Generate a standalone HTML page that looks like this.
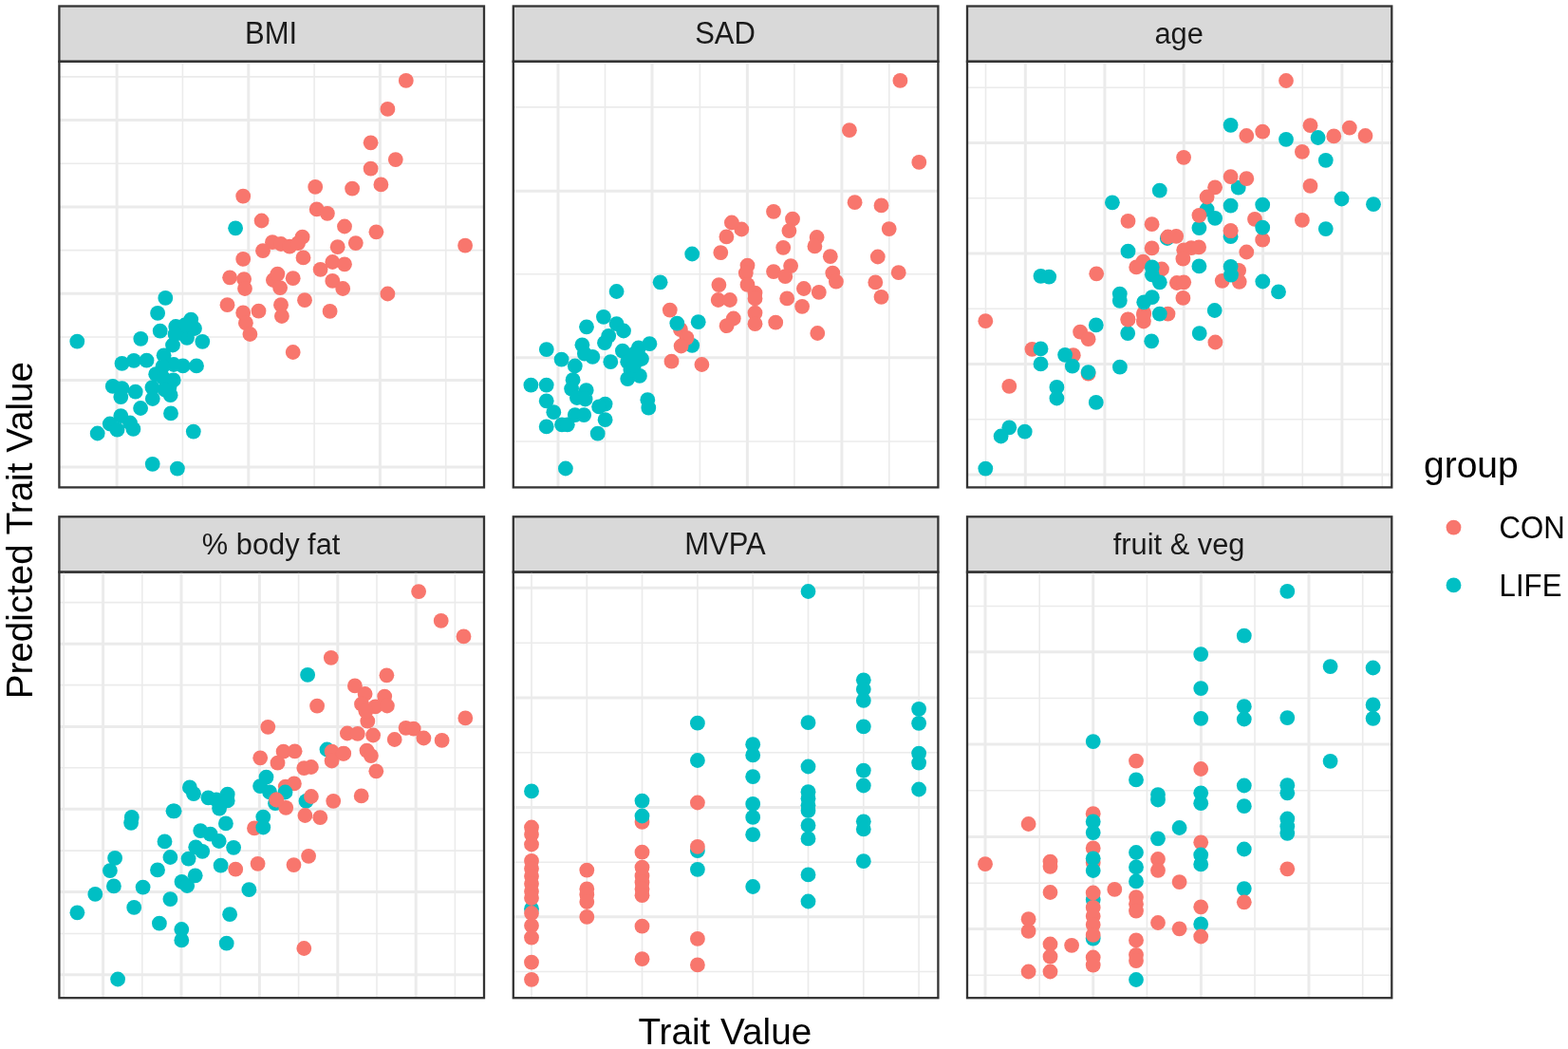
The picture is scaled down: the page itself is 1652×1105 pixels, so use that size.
<!DOCTYPE html><html><head><meta charset="utf-8"><style>html,body{margin:0;padding:0;background:#fff;overflow:hidden;}svg{display:block;}text{font-family:"Liberation Sans",Arial,sans-serif;}</style></head><body>
<svg width="1652" height="1105" viewBox="0 0 1652 1105">
<rect x="0" y="0" width="1652" height="1105" fill="#fff"/>
<rect x="62.4" y="6.5" width="447.6" height="58.3" fill="#D9D9D9" stroke="#333333" stroke-width="2.3"/>
<text transform="translate(285.6,45.7) scale(1,1.045)" font-size="31" fill="#1A1A1A" text-anchor="middle">BMI</text>
<line x1="192.4" y1="64.8" x2="192.4" y2="513.4" stroke="#EBEBEB" stroke-width="1.6"/><line x1="331.1" y1="64.8" x2="331.1" y2="513.4" stroke="#EBEBEB" stroke-width="1.6"/><line x1="469.7" y1="64.8" x2="469.7" y2="513.4" stroke="#EBEBEB" stroke-width="1.6"/><line x1="123.1" y1="64.8" x2="123.1" y2="513.4" stroke="#EBEBEB" stroke-width="3.0"/><line x1="261.8" y1="64.8" x2="261.8" y2="513.4" stroke="#EBEBEB" stroke-width="3.0"/><line x1="400.4" y1="64.8" x2="400.4" y2="513.4" stroke="#EBEBEB" stroke-width="3.0"/><line x1="62.4" y1="80.9" x2="510.0" y2="80.9" stroke="#EBEBEB" stroke-width="1.6"/><line x1="62.4" y1="172.3" x2="510.0" y2="172.3" stroke="#EBEBEB" stroke-width="1.6"/><line x1="62.4" y1="263.6" x2="510.0" y2="263.6" stroke="#EBEBEB" stroke-width="1.6"/><line x1="62.4" y1="355.0" x2="510.0" y2="355.0" stroke="#EBEBEB" stroke-width="1.6"/><line x1="62.4" y1="446.3" x2="510.0" y2="446.3" stroke="#EBEBEB" stroke-width="1.6"/><line x1="62.4" y1="126.6" x2="510.0" y2="126.6" stroke="#EBEBEB" stroke-width="3.0"/><line x1="62.4" y1="217.9" x2="510.0" y2="217.9" stroke="#EBEBEB" stroke-width="3.0"/><line x1="62.4" y1="309.3" x2="510.0" y2="309.3" stroke="#EBEBEB" stroke-width="3.0"/><line x1="62.4" y1="400.6" x2="510.0" y2="400.6" stroke="#EBEBEB" stroke-width="3.0"/><line x1="62.4" y1="492.0" x2="510.0" y2="492.0" stroke="#EBEBEB" stroke-width="3.0"/>
<circle cx="81.3" cy="359.7" r="7.9" fill="#00BFC4"/><circle cx="174.3" cy="313.9" r="7.9" fill="#00BFC4"/><circle cx="166.1" cy="329.9" r="7.9" fill="#00BFC4"/><circle cx="168.7" cy="348.7" r="7.9" fill="#00BFC4"/><circle cx="148.3" cy="356.8" r="7.9" fill="#00BFC4"/><circle cx="201.2" cy="336.6" r="7.9" fill="#00BFC4"/><circle cx="185.2" cy="344.0" r="7.9" fill="#00BFC4"/><circle cx="205.0" cy="346.0" r="7.9" fill="#00BFC4"/><circle cx="197.0" cy="355.8" r="7.9" fill="#00BFC4"/><circle cx="213.3" cy="359.8" r="7.9" fill="#00BFC4"/><circle cx="182.0" cy="363.5" r="7.9" fill="#00BFC4"/><circle cx="172.6" cy="374.3" r="7.9" fill="#00BFC4"/><circle cx="128.5" cy="382.9" r="7.9" fill="#00BFC4"/><circle cx="141.0" cy="379.8" r="7.9" fill="#00BFC4"/><circle cx="154.5" cy="379.6" r="7.9" fill="#00BFC4"/><circle cx="207.0" cy="385.4" r="7.9" fill="#00BFC4"/><circle cx="192.7" cy="385.4" r="7.9" fill="#00BFC4"/><circle cx="183.0" cy="384.0" r="7.9" fill="#00BFC4"/><circle cx="171.5" cy="386.0" r="7.9" fill="#00BFC4"/><circle cx="164.2" cy="394.2" r="7.9" fill="#00BFC4"/><circle cx="182.7" cy="400.4" r="7.9" fill="#00BFC4"/><circle cx="160.4" cy="408.1" r="7.9" fill="#00BFC4"/><circle cx="118.8" cy="406.9" r="7.9" fill="#00BFC4"/><circle cx="127.3" cy="418.1" r="7.9" fill="#00BFC4"/><circle cx="142.7" cy="412.7" r="7.9" fill="#00BFC4"/><circle cx="160.8" cy="420.0" r="7.9" fill="#00BFC4"/><circle cx="179.6" cy="416.2" r="7.9" fill="#00BFC4"/><circle cx="148.1" cy="430.0" r="7.9" fill="#00BFC4"/><circle cx="180.0" cy="435.4" r="7.9" fill="#00BFC4"/><circle cx="127.3" cy="438.1" r="7.9" fill="#00BFC4"/><circle cx="115.8" cy="446.5" r="7.9" fill="#00BFC4"/><circle cx="102.7" cy="456.5" r="7.9" fill="#00BFC4"/><circle cx="123.5" cy="452.7" r="7.9" fill="#00BFC4"/><circle cx="140.4" cy="451.9" r="7.9" fill="#00BFC4"/><circle cx="203.8" cy="454.6" r="7.9" fill="#00BFC4"/><circle cx="160.7" cy="488.8" r="7.9" fill="#00BFC4"/><circle cx="186.9" cy="493.6" r="7.9" fill="#00BFC4"/><circle cx="248.1" cy="240.3" r="7.9" fill="#00BFC4"/><circle cx="190.0" cy="350.8" r="7.9" fill="#00BFC4"/><circle cx="194.6" cy="342.5" r="7.9" fill="#00BFC4"/><circle cx="178.5" cy="407.5" r="7.9" fill="#00BFC4"/><circle cx="172.5" cy="398.5" r="7.9" fill="#00BFC4"/><circle cx="128.5" cy="409.2" r="7.9" fill="#00BFC4"/><circle cx="137.0" cy="445.5" r="7.9" fill="#00BFC4"/><circle cx="184.5" cy="352.0" r="7.9" fill="#00BFC4"/><circle cx="173.5" cy="410.5" r="7.9" fill="#00BFC4"/><circle cx="256.2" cy="206.7" r="7.9" fill="#F8766D"/><circle cx="332.2" cy="196.9" r="7.9" fill="#F8766D"/><circle cx="371.1" cy="198.7" r="7.9" fill="#F8766D"/><circle cx="333.7" cy="220.4" r="7.9" fill="#F8766D"/><circle cx="344.9" cy="224.8" r="7.9" fill="#F8766D"/><circle cx="275.6" cy="232.5" r="7.9" fill="#F8766D"/><circle cx="363.0" cy="238.5" r="7.9" fill="#F8766D"/><circle cx="374.8" cy="256.1" r="7.9" fill="#F8766D"/><circle cx="318.6" cy="249.7" r="7.9" fill="#F8766D"/><circle cx="287.0" cy="255.2" r="7.9" fill="#F8766D"/><circle cx="296.0" cy="257.0" r="7.9" fill="#F8766D"/><circle cx="305.1" cy="259.7" r="7.9" fill="#F8766D"/><circle cx="314.1" cy="256.1" r="7.9" fill="#F8766D"/><circle cx="277.0" cy="264.2" r="7.9" fill="#F8766D"/><circle cx="355.7" cy="260.2" r="7.9" fill="#F8766D"/><circle cx="256.2" cy="272.9" r="7.9" fill="#F8766D"/><circle cx="319.5" cy="271.4" r="7.9" fill="#F8766D"/><circle cx="337.6" cy="283.8" r="7.9" fill="#F8766D"/><circle cx="350.3" cy="276.0" r="7.9" fill="#F8766D"/><circle cx="363.0" cy="278.3" r="7.9" fill="#F8766D"/><circle cx="242.1" cy="292.3" r="7.9" fill="#F8766D"/><circle cx="257.1" cy="294.1" r="7.9" fill="#F8766D"/><circle cx="258.0" cy="304.0" r="7.9" fill="#F8766D"/><circle cx="287.9" cy="295.0" r="7.9" fill="#F8766D"/><circle cx="292.4" cy="288.6" r="7.9" fill="#F8766D"/><circle cx="295.1" cy="303.1" r="7.9" fill="#F8766D"/><circle cx="308.7" cy="293.2" r="7.9" fill="#F8766D"/><circle cx="350.3" cy="295.9" r="7.9" fill="#F8766D"/><circle cx="361.2" cy="304.0" r="7.9" fill="#F8766D"/><circle cx="239.5" cy="321.2" r="7.9" fill="#F8766D"/><circle cx="256.2" cy="329.4" r="7.9" fill="#F8766D"/><circle cx="272.5" cy="327.6" r="7.9" fill="#F8766D"/><circle cx="296.0" cy="321.2" r="7.9" fill="#F8766D"/><circle cx="296.9" cy="333.0" r="7.9" fill="#F8766D"/><circle cx="321.0" cy="316.2" r="7.9" fill="#F8766D"/><circle cx="347.6" cy="327.9" r="7.9" fill="#F8766D"/><circle cx="258.9" cy="340.2" r="7.9" fill="#F8766D"/><circle cx="263.4" cy="352.0" r="7.9" fill="#F8766D"/><circle cx="308.7" cy="371.0" r="7.9" fill="#F8766D"/><circle cx="427.8" cy="84.9" r="7.9" fill="#F8766D"/><circle cx="408.4" cy="114.9" r="7.9" fill="#F8766D"/><circle cx="390.6" cy="150.3" r="7.9" fill="#F8766D"/><circle cx="416.8" cy="168.1" r="7.9" fill="#F8766D"/><circle cx="390.6" cy="177.7" r="7.9" fill="#F8766D"/><circle cx="401.4" cy="194.4" r="7.9" fill="#F8766D"/><circle cx="396.4" cy="244.3" r="7.9" fill="#F8766D"/><circle cx="490.1" cy="258.7" r="7.9" fill="#F8766D"/><circle cx="408.4" cy="309.5" r="7.9" fill="#F8766D"/>
<rect x="62.4" y="64.8" width="447.6" height="448.6" fill="none" stroke="#333333" stroke-width="2.3"/>
<rect x="540.8" y="6.5" width="447.6" height="58.3" fill="#D9D9D9" stroke="#333333" stroke-width="2.3"/>
<text transform="translate(764.0,45.7) scale(1,1.045)" font-size="31" fill="#1A1A1A" text-anchor="middle">SAD</text>
<line x1="637.5" y1="64.8" x2="637.5" y2="513.4" stroke="#EBEBEB" stroke-width="1.6"/><line x1="737.4" y1="64.8" x2="737.4" y2="513.4" stroke="#EBEBEB" stroke-width="1.6"/><line x1="836.9" y1="64.8" x2="836.9" y2="513.4" stroke="#EBEBEB" stroke-width="1.6"/><line x1="936.8" y1="64.8" x2="936.8" y2="513.4" stroke="#EBEBEB" stroke-width="1.6"/><line x1="588.0" y1="64.8" x2="588.0" y2="513.4" stroke="#EBEBEB" stroke-width="3.0"/><line x1="687.0" y1="64.8" x2="687.0" y2="513.4" stroke="#EBEBEB" stroke-width="3.0"/><line x1="787.4" y1="64.8" x2="787.4" y2="513.4" stroke="#EBEBEB" stroke-width="3.0"/><line x1="886.9" y1="64.8" x2="886.9" y2="513.4" stroke="#EBEBEB" stroke-width="3.0"/><line x1="540.8" y1="112.9" x2="988.4" y2="112.9" stroke="#EBEBEB" stroke-width="1.6"/><line x1="540.8" y1="288.8" x2="988.4" y2="288.8" stroke="#EBEBEB" stroke-width="1.6"/><line x1="540.8" y1="465.0" x2="988.4" y2="465.0" stroke="#EBEBEB" stroke-width="1.6"/><line x1="540.8" y1="201.2" x2="988.4" y2="201.2" stroke="#EBEBEB" stroke-width="3.0"/><line x1="540.8" y1="376.7" x2="988.4" y2="376.7" stroke="#EBEBEB" stroke-width="3.0"/>
<circle cx="729.2" cy="363.8" r="7.9" fill="#00BFC4"/><circle cx="649.6" cy="307.0" r="7.9" fill="#00BFC4"/><circle cx="695.6" cy="297.3" r="7.9" fill="#00BFC4"/><circle cx="635.9" cy="333.8" r="7.9" fill="#00BFC4"/><circle cx="649.6" cy="341.1" r="7.9" fill="#00BFC4"/><circle cx="657.0" cy="348.5" r="7.9" fill="#00BFC4"/><circle cx="618.0" cy="344.3" r="7.9" fill="#00BFC4"/><circle cx="641.2" cy="353.8" r="7.9" fill="#00BFC4"/><circle cx="637.0" cy="361.2" r="7.9" fill="#00BFC4"/><circle cx="575.8" cy="368.1" r="7.9" fill="#00BFC4"/><circle cx="613.4" cy="363.3" r="7.9" fill="#00BFC4"/><circle cx="624.3" cy="375.9" r="7.9" fill="#00BFC4"/><circle cx="615.9" cy="372.7" r="7.9" fill="#00BFC4"/><circle cx="591.6" cy="378.6" r="7.9" fill="#00BFC4"/><circle cx="605.8" cy="385.5" r="7.9" fill="#00BFC4"/><circle cx="643.3" cy="381.2" r="7.9" fill="#00BFC4"/><circle cx="655.9" cy="369.6" r="7.9" fill="#00BFC4"/><circle cx="672.8" cy="366.4" r="7.9" fill="#00BFC4"/><circle cx="684.4" cy="362.2" r="7.9" fill="#00BFC4"/><circle cx="676.0" cy="378.0" r="7.9" fill="#00BFC4"/><circle cx="661.2" cy="381.2" r="7.9" fill="#00BFC4"/><circle cx="661.2" cy="399.1" r="7.9" fill="#00BFC4"/><circle cx="673.9" cy="395.9" r="7.9" fill="#00BFC4"/><circle cx="664.4" cy="389.6" r="7.9" fill="#00BFC4"/><circle cx="559.4" cy="405.6" r="7.9" fill="#00BFC4"/><circle cx="575.7" cy="405.6" r="7.9" fill="#00BFC4"/><circle cx="603.6" cy="400.2" r="7.9" fill="#00BFC4"/><circle cx="602.1" cy="409.6" r="7.9" fill="#00BFC4"/><circle cx="617.7" cy="411.1" r="7.9" fill="#00BFC4"/><circle cx="607.9" cy="419.0" r="7.9" fill="#00BFC4"/><circle cx="616.6" cy="420.5" r="7.9" fill="#00BFC4"/><circle cx="575.7" cy="422.3" r="7.9" fill="#00BFC4"/><circle cx="637.6" cy="425.6" r="7.9" fill="#00BFC4"/><circle cx="631.1" cy="428.4" r="7.9" fill="#00BFC4"/><circle cx="583.3" cy="434.2" r="7.9" fill="#00BFC4"/><circle cx="605.8" cy="437.1" r="7.9" fill="#00BFC4"/><circle cx="615.2" cy="437.1" r="7.9" fill="#00BFC4"/><circle cx="575.7" cy="449.4" r="7.9" fill="#00BFC4"/><circle cx="592.0" cy="447.3" r="7.9" fill="#00BFC4"/><circle cx="597.8" cy="447.3" r="7.9" fill="#00BFC4"/><circle cx="637.6" cy="442.2" r="7.9" fill="#00BFC4"/><circle cx="629.7" cy="456.7" r="7.9" fill="#00BFC4"/><circle cx="682.3" cy="421.2" r="7.9" fill="#00BFC4"/><circle cx="683.3" cy="429.7" r="7.9" fill="#00BFC4"/><circle cx="595.9" cy="493.5" r="7.9" fill="#00BFC4"/><circle cx="729.2" cy="267.5" r="7.9" fill="#00BFC4"/><circle cx="668.5" cy="372.5" r="7.9" fill="#00BFC4"/><circle cx="668.0" cy="385.0" r="7.9" fill="#00BFC4"/><circle cx="705.8" cy="326.6" r="7.9" fill="#F8766D"/><circle cx="716.9" cy="347.1" r="7.9" fill="#F8766D"/><circle cx="723.4" cy="355.8" r="7.9" fill="#F8766D"/><circle cx="717.6" cy="364.5" r="7.9" fill="#F8766D"/><circle cx="707.5" cy="380.7" r="7.9" fill="#F8766D"/><circle cx="739.4" cy="384.0" r="7.9" fill="#F8766D"/><circle cx="759.3" cy="266.1" r="7.9" fill="#F8766D"/><circle cx="765.4" cy="249.4" r="7.9" fill="#F8766D"/><circle cx="781.3" cy="241.5" r="7.9" fill="#F8766D"/><circle cx="770.9" cy="234.5" r="7.9" fill="#F8766D"/><circle cx="757.4" cy="300.1" r="7.9" fill="#F8766D"/><circle cx="756.7" cy="316.0" r="7.9" fill="#F8766D"/><circle cx="769.0" cy="316.0" r="7.9" fill="#F8766D"/><circle cx="772.8" cy="335.5" r="7.9" fill="#F8766D"/><circle cx="765.6" cy="343.2" r="7.9" fill="#F8766D"/><circle cx="787.5" cy="279.6" r="7.9" fill="#F8766D"/><circle cx="785.8" cy="287.6" r="7.9" fill="#F8766D"/><circle cx="787.5" cy="299.9" r="7.9" fill="#F8766D"/><circle cx="795.5" cy="308.6" r="7.9" fill="#F8766D"/><circle cx="795.5" cy="314.4" r="7.9" fill="#F8766D"/><circle cx="795.5" cy="329.6" r="7.9" fill="#F8766D"/><circle cx="795.5" cy="341.2" r="7.9" fill="#F8766D"/><circle cx="815.0" cy="222.9" r="7.9" fill="#F8766D"/><circle cx="835.0" cy="230.7" r="7.9" fill="#F8766D"/><circle cx="831.4" cy="243.1" r="7.9" fill="#F8766D"/><circle cx="825.2" cy="260.8" r="7.9" fill="#F8766D"/><circle cx="860.6" cy="250.0" r="7.9" fill="#F8766D"/><circle cx="858.4" cy="259.4" r="7.9" fill="#F8766D"/><circle cx="874.8" cy="270.2" r="7.9" fill="#F8766D"/><circle cx="877.3" cy="287.6" r="7.9" fill="#F8766D"/><circle cx="880.9" cy="296.7" r="7.9" fill="#F8766D"/><circle cx="815.0" cy="286.1" r="7.9" fill="#F8766D"/><circle cx="833.1" cy="280.1" r="7.9" fill="#F8766D"/><circle cx="827.3" cy="291.2" r="7.9" fill="#F8766D"/><circle cx="846.9" cy="304.0" r="7.9" fill="#F8766D"/><circle cx="862.8" cy="307.9" r="7.9" fill="#F8766D"/><circle cx="829.2" cy="314.4" r="7.9" fill="#F8766D"/><circle cx="845.1" cy="322.8" r="7.9" fill="#F8766D"/><circle cx="817.2" cy="339.7" r="7.9" fill="#F8766D"/><circle cx="861.3" cy="351.0" r="7.9" fill="#F8766D"/><circle cx="948.4" cy="84.9" r="7.9" fill="#F8766D"/><circle cx="894.9" cy="137.2" r="7.9" fill="#F8766D"/><circle cx="968.3" cy="170.9" r="7.9" fill="#F8766D"/><circle cx="900.6" cy="213.2" r="7.9" fill="#F8766D"/><circle cx="928.5" cy="216.4" r="7.9" fill="#F8766D"/><circle cx="936.7" cy="241.1" r="7.9" fill="#F8766D"/><circle cx="924.8" cy="270.5" r="7.9" fill="#F8766D"/><circle cx="946.7" cy="287.2" r="7.9" fill="#F8766D"/><circle cx="922.3" cy="297.4" r="7.9" fill="#F8766D"/><circle cx="928.5" cy="312.8" r="7.9" fill="#F8766D"/><circle cx="713.3" cy="340.6" r="7.9" fill="#00BFC4"/><circle cx="735.7" cy="339.2" r="7.9" fill="#00BFC4"/>
<rect x="540.8" y="64.8" width="447.6" height="448.6" fill="none" stroke="#333333" stroke-width="2.3"/>
<rect x="1019.0" y="6.5" width="447.3" height="58.3" fill="#D9D9D9" stroke="#333333" stroke-width="2.3"/>
<text transform="translate(1242.1,45.7)" font-size="30.8" fill="#1A1A1A" text-anchor="middle">age</text>
<line x1="1038.5" y1="64.8" x2="1038.5" y2="513.4" stroke="#EBEBEB" stroke-width="1.6"/><line x1="1121.9" y1="64.8" x2="1121.9" y2="513.4" stroke="#EBEBEB" stroke-width="1.6"/><line x1="1205.5" y1="64.8" x2="1205.5" y2="513.4" stroke="#EBEBEB" stroke-width="1.6"/><line x1="1289.0" y1="64.8" x2="1289.0" y2="513.4" stroke="#EBEBEB" stroke-width="1.6"/><line x1="1372.3" y1="64.8" x2="1372.3" y2="513.4" stroke="#EBEBEB" stroke-width="1.6"/><line x1="1456.3" y1="64.8" x2="1456.3" y2="513.4" stroke="#EBEBEB" stroke-width="1.6"/><line x1="1080.3" y1="64.8" x2="1080.3" y2="513.4" stroke="#EBEBEB" stroke-width="3.0"/><line x1="1163.9" y1="64.8" x2="1163.9" y2="513.4" stroke="#EBEBEB" stroke-width="3.0"/><line x1="1247.3" y1="64.8" x2="1247.3" y2="513.4" stroke="#EBEBEB" stroke-width="3.0"/><line x1="1330.6" y1="64.8" x2="1330.6" y2="513.4" stroke="#EBEBEB" stroke-width="3.0"/><line x1="1413.9" y1="64.8" x2="1413.9" y2="513.4" stroke="#EBEBEB" stroke-width="3.0"/><line x1="1019.0" y1="92.2" x2="1466.3" y2="92.2" stroke="#EBEBEB" stroke-width="1.6"/><line x1="1019.0" y1="208.8" x2="1466.3" y2="208.8" stroke="#EBEBEB" stroke-width="1.6"/><line x1="1019.0" y1="325.2" x2="1466.3" y2="325.2" stroke="#EBEBEB" stroke-width="1.6"/><line x1="1019.0" y1="441.7" x2="1466.3" y2="441.7" stroke="#EBEBEB" stroke-width="1.6"/><line x1="1019.0" y1="150.4" x2="1466.3" y2="150.4" stroke="#EBEBEB" stroke-width="3.0"/><line x1="1019.0" y1="267.0" x2="1466.3" y2="267.0" stroke="#EBEBEB" stroke-width="3.0"/><line x1="1019.0" y1="383.4" x2="1466.3" y2="383.4" stroke="#EBEBEB" stroke-width="3.0"/><line x1="1019.0" y1="500.0" x2="1466.3" y2="500.0" stroke="#EBEBEB" stroke-width="3.0"/>
<circle cx="1229.8" cy="251.0" r="7.9" fill="#00BFC4"/><circle cx="1296.6" cy="249.2" r="7.9" fill="#00BFC4"/><circle cx="1304.7" cy="197.7" r="7.9" fill="#00BFC4"/><circle cx="1271.6" cy="220.7" r="7.9" fill="#00BFC4"/><circle cx="1263.4" cy="240.1" r="7.9" fill="#00BFC4"/><circle cx="1280.1" cy="229.9" r="7.9" fill="#00BFC4"/><circle cx="1146.6" cy="393.6" r="7.9" fill="#F8766D"/><circle cx="1130.8" cy="374.2" r="7.9" fill="#F8766D"/><circle cx="1355.0" cy="85.0" r="7.9" fill="#F8766D"/><circle cx="1313.3" cy="143.0" r="7.9" fill="#F8766D"/><circle cx="1330.2" cy="138.7" r="7.9" fill="#F8766D"/><circle cx="1380.5" cy="132.2" r="7.9" fill="#F8766D"/><circle cx="1405.3" cy="143.4" r="7.9" fill="#F8766D"/><circle cx="1421.8" cy="134.6" r="7.9" fill="#F8766D"/><circle cx="1438.5" cy="143.0" r="7.9" fill="#F8766D"/><circle cx="1371.9" cy="159.9" r="7.9" fill="#F8766D"/><circle cx="1247.1" cy="165.8" r="7.9" fill="#F8766D"/><circle cx="1296.6" cy="186.1" r="7.9" fill="#F8766D"/><circle cx="1313.3" cy="188.2" r="7.9" fill="#F8766D"/><circle cx="1280.1" cy="197.3" r="7.9" fill="#F8766D"/><circle cx="1271.6" cy="207.5" r="7.9" fill="#F8766D"/><circle cx="1380.5" cy="195.9" r="7.9" fill="#F8766D"/><circle cx="1263.4" cy="226.8" r="7.9" fill="#F8766D"/><circle cx="1322.0" cy="230.9" r="7.9" fill="#F8766D"/><circle cx="1371.9" cy="231.9" r="7.9" fill="#F8766D"/><circle cx="1296.6" cy="243.1" r="7.9" fill="#F8766D"/><circle cx="1330.2" cy="252.7" r="7.9" fill="#F8766D"/><circle cx="1313.3" cy="265.5" r="7.9" fill="#F8766D"/><circle cx="1255.1" cy="261.1" r="7.9" fill="#F8766D"/><circle cx="1247.2" cy="263.3" r="7.9" fill="#F8766D"/><circle cx="1263.1" cy="260.4" r="7.9" fill="#F8766D"/><circle cx="1246.4" cy="272.7" r="7.9" fill="#F8766D"/><circle cx="1305.1" cy="284.9" r="7.9" fill="#F8766D"/><circle cx="1188.5" cy="232.9" r="7.9" fill="#F8766D"/><circle cx="1213.6" cy="236.2" r="7.9" fill="#F8766D"/><circle cx="1230.5" cy="249.5" r="7.9" fill="#F8766D"/><circle cx="1239.2" cy="248.8" r="7.9" fill="#F8766D"/><circle cx="1213.6" cy="261.4" r="7.9" fill="#F8766D"/><circle cx="1204.4" cy="275.6" r="7.9" fill="#F8766D"/><circle cx="1197.2" cy="281.4" r="7.9" fill="#F8766D"/><circle cx="1224.0" cy="283.5" r="7.9" fill="#F8766D"/><circle cx="1239.9" cy="298.0" r="7.9" fill="#F8766D"/><circle cx="1247.2" cy="297.3" r="7.9" fill="#F8766D"/><circle cx="1246.4" cy="313.9" r="7.9" fill="#F8766D"/><circle cx="1155.2" cy="288.3" r="7.9" fill="#F8766D"/><circle cx="1205.2" cy="329.9" r="7.9" fill="#F8766D"/><circle cx="1230.5" cy="330.6" r="7.9" fill="#F8766D"/><circle cx="1188.5" cy="336.4" r="7.9" fill="#F8766D"/><circle cx="1287.7" cy="295.8" r="7.9" fill="#F8766D"/><circle cx="1305.7" cy="296.8" r="7.9" fill="#F8766D"/><circle cx="1280.4" cy="360.5" r="7.9" fill="#F8766D"/><circle cx="1038.3" cy="338.2" r="7.9" fill="#F8766D"/><circle cx="1063.3" cy="406.9" r="7.9" fill="#F8766D"/><circle cx="1087.4" cy="367.8" r="7.9" fill="#F8766D"/><circle cx="1138.1" cy="349.7" r="7.9" fill="#F8766D"/><circle cx="1146.6" cy="357.2" r="7.9" fill="#F8766D"/><circle cx="1204.9" cy="338.5" r="7.9" fill="#F8766D"/><circle cx="1204.9" cy="331.8" r="7.9" fill="#F8766D"/><circle cx="1296.6" cy="131.8" r="7.9" fill="#00BFC4"/><circle cx="1355.0" cy="146.8" r="7.9" fill="#00BFC4"/><circle cx="1388.6" cy="145.0" r="7.9" fill="#00BFC4"/><circle cx="1396.8" cy="168.8" r="7.9" fill="#00BFC4"/><circle cx="1413.5" cy="209.5" r="7.9" fill="#00BFC4"/><circle cx="1447.0" cy="215.2" r="7.9" fill="#00BFC4"/><circle cx="1296.6" cy="216.7" r="7.9" fill="#00BFC4"/><circle cx="1330.2" cy="215.7" r="7.9" fill="#00BFC4"/><circle cx="1330.2" cy="239.7" r="7.9" fill="#00BFC4"/><circle cx="1396.8" cy="241.1" r="7.9" fill="#00BFC4"/><circle cx="1263.4" cy="280.4" r="7.9" fill="#00BFC4"/><circle cx="1296.6" cy="280.8" r="7.9" fill="#00BFC4"/><circle cx="1297.0" cy="289.6" r="7.9" fill="#00BFC4"/><circle cx="1221.8" cy="200.7" r="7.9" fill="#00BFC4"/><circle cx="1171.9" cy="213.3" r="7.9" fill="#00BFC4"/><circle cx="1188.5" cy="264.7" r="7.9" fill="#00BFC4"/><circle cx="1213.8" cy="281.4" r="7.9" fill="#00BFC4"/><circle cx="1213.8" cy="289.3" r="7.9" fill="#00BFC4"/><circle cx="1221.8" cy="297.3" r="7.9" fill="#00BFC4"/><circle cx="1179.8" cy="309.6" r="7.9" fill="#00BFC4"/><circle cx="1179.8" cy="316.8" r="7.9" fill="#00BFC4"/><circle cx="1213.8" cy="313.2" r="7.9" fill="#00BFC4"/><circle cx="1205.2" cy="318.3" r="7.9" fill="#00BFC4"/><circle cx="1221.8" cy="330.6" r="7.9" fill="#00BFC4"/><circle cx="1279.7" cy="327.0" r="7.9" fill="#00BFC4"/><circle cx="1330.3" cy="296.5" r="7.9" fill="#00BFC4"/><circle cx="1347.0" cy="307.4" r="7.9" fill="#00BFC4"/><circle cx="1263.7" cy="351.1" r="7.9" fill="#00BFC4"/><circle cx="1213.2" cy="359.3" r="7.9" fill="#00BFC4"/><circle cx="1063.3" cy="450.3" r="7.9" fill="#00BFC4"/><circle cx="1054.6" cy="459.5" r="7.9" fill="#00BFC4"/><circle cx="1079.7" cy="454.7" r="7.9" fill="#00BFC4"/><circle cx="1038.3" cy="493.6" r="7.9" fill="#00BFC4"/><circle cx="1096.5" cy="367.4" r="7.9" fill="#00BFC4"/><circle cx="1096.5" cy="383.4" r="7.9" fill="#00BFC4"/><circle cx="1122.1" cy="373.8" r="7.9" fill="#00BFC4"/><circle cx="1129.8" cy="385.7" r="7.9" fill="#00BFC4"/><circle cx="1146.6" cy="392.1" r="7.9" fill="#00BFC4"/><circle cx="1113.4" cy="407.9" r="7.9" fill="#00BFC4"/><circle cx="1113.4" cy="419.5" r="7.9" fill="#00BFC4"/><circle cx="1154.8" cy="423.9" r="7.9" fill="#00BFC4"/><circle cx="1154.8" cy="342.4" r="7.9" fill="#00BFC4"/><circle cx="1188.2" cy="351.1" r="7.9" fill="#00BFC4"/><circle cx="1179.9" cy="386.7" r="7.9" fill="#00BFC4"/><circle cx="1096.5" cy="290.8" r="7.9" fill="#00BFC4"/><circle cx="1105.2" cy="291.6" r="7.9" fill="#00BFC4"/><circle cx="1296.6" cy="243.1" r="7.9" fill="#F8766D"/><circle cx="1188.3" cy="336.7" r="7.9" fill="#F8766D"/>
<rect x="1019.0" y="64.8" width="447.3" height="448.6" fill="none" stroke="#333333" stroke-width="2.3"/>
<rect x="62.4" y="544.3" width="447.6" height="58.3" fill="#D9D9D9" stroke="#333333" stroke-width="2.3"/>
<text transform="translate(285.6,583.5)" font-size="30.8" fill="#1A1A1A" text-anchor="middle">% body fat</text>
<line x1="67.2" y1="602.6" x2="67.2" y2="1051.2" stroke="#EBEBEB" stroke-width="1.6"/><line x1="149.8" y1="602.6" x2="149.8" y2="1051.2" stroke="#EBEBEB" stroke-width="1.6"/><line x1="232.3" y1="602.6" x2="232.3" y2="1051.2" stroke="#EBEBEB" stroke-width="1.6"/><line x1="314.6" y1="602.6" x2="314.6" y2="1051.2" stroke="#EBEBEB" stroke-width="1.6"/><line x1="397.0" y1="602.6" x2="397.0" y2="1051.2" stroke="#EBEBEB" stroke-width="1.6"/><line x1="479.4" y1="602.6" x2="479.4" y2="1051.2" stroke="#EBEBEB" stroke-width="1.6"/><line x1="108.6" y1="602.6" x2="108.6" y2="1051.2" stroke="#EBEBEB" stroke-width="3.0"/><line x1="191.0" y1="602.6" x2="191.0" y2="1051.2" stroke="#EBEBEB" stroke-width="3.0"/><line x1="273.4" y1="602.6" x2="273.4" y2="1051.2" stroke="#EBEBEB" stroke-width="3.0"/><line x1="355.8" y1="602.6" x2="355.8" y2="1051.2" stroke="#EBEBEB" stroke-width="3.0"/><line x1="438.2" y1="602.6" x2="438.2" y2="1051.2" stroke="#EBEBEB" stroke-width="3.0"/><line x1="62.4" y1="634.6" x2="510.0" y2="634.6" stroke="#EBEBEB" stroke-width="1.6"/><line x1="62.4" y1="721.6" x2="510.0" y2="721.6" stroke="#EBEBEB" stroke-width="1.6"/><line x1="62.4" y1="808.8" x2="510.0" y2="808.8" stroke="#EBEBEB" stroke-width="1.6"/><line x1="62.4" y1="896.1" x2="510.0" y2="896.1" stroke="#EBEBEB" stroke-width="1.6"/><line x1="62.4" y1="983.5" x2="510.0" y2="983.5" stroke="#EBEBEB" stroke-width="1.6"/><line x1="62.4" y1="678.3" x2="510.0" y2="678.3" stroke="#EBEBEB" stroke-width="3.0"/><line x1="62.4" y1="765.6" x2="510.0" y2="765.6" stroke="#EBEBEB" stroke-width="3.0"/><line x1="62.4" y1="852.2" x2="510.0" y2="852.2" stroke="#EBEBEB" stroke-width="3.0"/><line x1="62.4" y1="939.6" x2="510.0" y2="939.6" stroke="#EBEBEB" stroke-width="3.0"/><line x1="62.4" y1="1026.8" x2="510.0" y2="1026.8" stroke="#EBEBEB" stroke-width="3.0"/>
<circle cx="81.4" cy="961.3" r="7.9" fill="#00BFC4"/><circle cx="100.3" cy="941.9" r="7.9" fill="#00BFC4"/><circle cx="119.9" cy="933.4" r="7.9" fill="#00BFC4"/><circle cx="115.9" cy="917.1" r="7.9" fill="#00BFC4"/><circle cx="121.1" cy="903.9" r="7.9" fill="#00BFC4"/><circle cx="138.8" cy="860.9" r="7.9" fill="#00BFC4"/><circle cx="138.1" cy="866.8" r="7.9" fill="#00BFC4"/><circle cx="150.6" cy="934.6" r="7.9" fill="#00BFC4"/><circle cx="141.2" cy="955.9" r="7.9" fill="#00BFC4"/><circle cx="166.0" cy="916.4" r="7.9" fill="#00BFC4"/><circle cx="173.5" cy="886.4" r="7.9" fill="#00BFC4"/><circle cx="179.4" cy="903.0" r="7.9" fill="#00BFC4"/><circle cx="182.5" cy="854.3" r="7.9" fill="#00BFC4"/><circle cx="179.4" cy="947.1" r="7.9" fill="#00BFC4"/><circle cx="167.9" cy="972.7" r="7.9" fill="#00BFC4"/><circle cx="191.3" cy="979.0" r="7.9" fill="#00BFC4"/><circle cx="191.3" cy="990.4" r="7.9" fill="#00BFC4"/><circle cx="124.1" cy="1031.5" r="7.9" fill="#00BFC4"/><circle cx="198.6" cy="904.6" r="7.9" fill="#00BFC4"/><circle cx="191.5" cy="928.9" r="7.9" fill="#00BFC4"/><circle cx="197.2" cy="933.0" r="7.9" fill="#00BFC4"/><circle cx="205.7" cy="922.3" r="7.9" fill="#00BFC4"/><circle cx="206.2" cy="892.3" r="7.9" fill="#00BFC4"/><circle cx="213.2" cy="896.8" r="7.9" fill="#00BFC4"/><circle cx="211.2" cy="875.1" r="7.9" fill="#00BFC4"/><circle cx="221.6" cy="878.7" r="7.9" fill="#00BFC4"/><circle cx="237.9" cy="867.4" r="7.9" fill="#00BFC4"/><circle cx="230.7" cy="886.0" r="7.9" fill="#00BFC4"/><circle cx="246.1" cy="892.8" r="7.9" fill="#00BFC4"/><circle cx="232.6" cy="911.7" r="7.9" fill="#00BFC4"/><circle cx="199.9" cy="829.4" r="7.9" fill="#00BFC4"/><circle cx="204.0" cy="836.2" r="7.9" fill="#00BFC4"/><circle cx="219.4" cy="840.3" r="7.9" fill="#00BFC4"/><circle cx="228.0" cy="842.5" r="7.9" fill="#00BFC4"/><circle cx="239.7" cy="836.7" r="7.9" fill="#00BFC4"/><circle cx="239.7" cy="843.4" r="7.9" fill="#00BFC4"/><circle cx="231.1" cy="851.6" r="7.9" fill="#00BFC4"/><circle cx="183.6" cy="854.3" r="7.9" fill="#00BFC4"/><circle cx="262.4" cy="937.2" r="7.9" fill="#00BFC4"/><circle cx="242.1" cy="963.2" r="7.9" fill="#00BFC4"/><circle cx="238.7" cy="993.7" r="7.9" fill="#00BFC4"/><circle cx="280.5" cy="818.6" r="7.9" fill="#00BFC4"/><circle cx="274.1" cy="828.1" r="7.9" fill="#00BFC4"/><circle cx="284.1" cy="834.4" r="7.9" fill="#00BFC4"/><circle cx="290.0" cy="846.2" r="7.9" fill="#00BFC4"/><circle cx="277.3" cy="860.6" r="7.9" fill="#00BFC4"/><circle cx="324.1" cy="710.9" r="7.9" fill="#00BFC4"/><circle cx="344.5" cy="789.5" r="7.9" fill="#00BFC4"/><circle cx="322.5" cy="843.8" r="7.9" fill="#00BFC4"/><circle cx="248.2" cy="915.7" r="7.9" fill="#F8766D"/><circle cx="271.6" cy="909.8" r="7.9" fill="#F8766D"/><circle cx="268.0" cy="872.4" r="7.9" fill="#F8766D"/><circle cx="274.2" cy="798.3" r="7.9" fill="#F8766D"/><circle cx="298.6" cy="791.7" r="7.9" fill="#F8766D"/><circle cx="310.6" cy="791.3" r="7.9" fill="#F8766D"/><circle cx="292.5" cy="803.7" r="7.9" fill="#F8766D"/><circle cx="320.3" cy="809.1" r="7.9" fill="#F8766D"/><circle cx="327.9" cy="808.0" r="7.9" fill="#F8766D"/><circle cx="349.6" cy="791.7" r="7.9" fill="#F8766D"/><circle cx="361.6" cy="793.9" r="7.9" fill="#F8766D"/><circle cx="349.6" cy="801.5" r="7.9" fill="#F8766D"/><circle cx="365.9" cy="772.5" r="7.9" fill="#F8766D"/><circle cx="376.8" cy="772.9" r="7.9" fill="#F8766D"/><circle cx="393.1" cy="774.5" r="7.9" fill="#F8766D"/><circle cx="415.7" cy="779.0" r="7.9" fill="#F8766D"/><circle cx="386.5" cy="790.6" r="7.9" fill="#F8766D"/><circle cx="390.9" cy="796.1" r="7.9" fill="#F8766D"/><circle cx="396.3" cy="812.3" r="7.9" fill="#F8766D"/><circle cx="282.3" cy="765.8" r="7.9" fill="#F8766D"/><circle cx="300.8" cy="828.6" r="7.9" fill="#F8766D"/><circle cx="309.9" cy="825.4" r="7.9" fill="#F8766D"/><circle cx="291.3" cy="842.5" r="7.9" fill="#F8766D"/><circle cx="301.2" cy="850.8" r="7.9" fill="#F8766D"/><circle cx="327.9" cy="839.0" r="7.9" fill="#F8766D"/><circle cx="351.2" cy="843.8" r="7.9" fill="#F8766D"/><circle cx="380.7" cy="838.4" r="7.9" fill="#F8766D"/><circle cx="321.4" cy="859.0" r="7.9" fill="#F8766D"/><circle cx="337.3" cy="861.2" r="7.9" fill="#F8766D"/><circle cx="309.5" cy="911.1" r="7.9" fill="#F8766D"/><circle cx="325.1" cy="901.8" r="7.9" fill="#F8766D"/><circle cx="320.3" cy="999.0" r="7.9" fill="#F8766D"/><circle cx="441.1" cy="623.1" r="7.9" fill="#F8766D"/><circle cx="464.7" cy="653.9" r="7.9" fill="#F8766D"/><circle cx="488.5" cy="670.4" r="7.9" fill="#F8766D"/><circle cx="348.8" cy="692.8" r="7.9" fill="#F8766D"/><circle cx="407.4" cy="711.3" r="7.9" fill="#F8766D"/><circle cx="373.9" cy="722.4" r="7.9" fill="#F8766D"/><circle cx="384.6" cy="731.0" r="7.9" fill="#F8766D"/><circle cx="405.2" cy="733.6" r="7.9" fill="#F8766D"/><circle cx="381.0" cy="741.7" r="7.9" fill="#F8766D"/><circle cx="395.4" cy="744.4" r="7.9" fill="#F8766D"/><circle cx="407.9" cy="743.5" r="7.9" fill="#F8766D"/><circle cx="387.3" cy="759.6" r="7.9" fill="#F8766D"/><circle cx="334.1" cy="743.7" r="7.9" fill="#F8766D"/><circle cx="490.3" cy="756.4" r="7.9" fill="#F8766D"/><circle cx="427.6" cy="766.8" r="7.9" fill="#F8766D"/><circle cx="435.7" cy="767.7" r="7.9" fill="#F8766D"/><circle cx="446.4" cy="777.5" r="7.9" fill="#F8766D"/><circle cx="465.6" cy="779.9" r="7.9" fill="#F8766D"/><circle cx="362.2" cy="793.7" r="7.9" fill="#F8766D"/><circle cx="277.3" cy="871.5" r="7.9" fill="#00BFC4"/><circle cx="300.5" cy="834.5" r="7.9" fill="#00BFC4"/><circle cx="291.3" cy="842.5" r="7.9" fill="#F8766D"/><circle cx="385.4" cy="749.2" r="7.9" fill="#F8766D"/>
<rect x="62.4" y="602.6" width="447.6" height="448.6" fill="none" stroke="#333333" stroke-width="2.3"/>
<rect x="540.8" y="544.3" width="447.6" height="58.3" fill="#D9D9D9" stroke="#333333" stroke-width="2.3"/>
<text transform="translate(764.0,583.5) scale(1,1.045)" font-size="31" fill="#1A1A1A" text-anchor="middle">MVPA</text>
<line x1="560.0" y1="602.6" x2="560.0" y2="1051.2" stroke="#EBEBEB" stroke-width="1.7"/><line x1="618.3" y1="602.6" x2="618.3" y2="1051.2" stroke="#EBEBEB" stroke-width="1.7"/><line x1="676.5" y1="602.6" x2="676.5" y2="1051.2" stroke="#EBEBEB" stroke-width="1.7"/><line x1="734.9" y1="602.6" x2="734.9" y2="1051.2" stroke="#EBEBEB" stroke-width="1.7"/><line x1="793.2" y1="602.6" x2="793.2" y2="1051.2" stroke="#EBEBEB" stroke-width="1.7"/><line x1="851.5" y1="602.6" x2="851.5" y2="1051.2" stroke="#EBEBEB" stroke-width="1.7"/><line x1="909.8" y1="602.6" x2="909.8" y2="1051.2" stroke="#EBEBEB" stroke-width="1.7"/><line x1="968.1" y1="602.6" x2="968.1" y2="1051.2" stroke="#EBEBEB" stroke-width="1.7"/><line x1="540.8" y1="677.2" x2="988.4" y2="677.2" stroke="#EBEBEB" stroke-width="1.6"/><line x1="540.8" y1="792.8" x2="988.4" y2="792.8" stroke="#EBEBEB" stroke-width="1.6"/><line x1="540.8" y1="908.2" x2="988.4" y2="908.2" stroke="#EBEBEB" stroke-width="1.6"/><line x1="540.8" y1="1023.5" x2="988.4" y2="1023.5" stroke="#EBEBEB" stroke-width="1.6"/><line x1="540.8" y1="619.2" x2="988.4" y2="619.2" stroke="#EBEBEB" stroke-width="3.0"/><line x1="540.8" y1="735.0" x2="988.4" y2="735.0" stroke="#EBEBEB" stroke-width="3.0"/><line x1="540.8" y1="850.4" x2="988.4" y2="850.4" stroke="#EBEBEB" stroke-width="3.0"/><line x1="540.8" y1="965.8" x2="988.4" y2="965.8" stroke="#EBEBEB" stroke-width="3.0"/>
<circle cx="560.0" cy="833.4" r="7.9" fill="#00BFC4"/><circle cx="560.0" cy="957.4" r="7.9" fill="#00BFC4"/><circle cx="560.0" cy="871.5" r="7.9" fill="#F8766D"/><circle cx="560.0" cy="879.0" r="7.9" fill="#F8766D"/><circle cx="560.0" cy="889.5" r="7.9" fill="#F8766D"/><circle cx="560.0" cy="906.9" r="7.9" fill="#F8766D"/><circle cx="560.0" cy="915.0" r="7.9" fill="#F8766D"/><circle cx="560.0" cy="923.0" r="7.9" fill="#F8766D"/><circle cx="560.0" cy="931.0" r="7.9" fill="#F8766D"/><circle cx="560.0" cy="939.0" r="7.9" fill="#F8766D"/><circle cx="560.0" cy="946.0" r="7.9" fill="#F8766D"/><circle cx="560.0" cy="962.0" r="7.9" fill="#F8766D"/><circle cx="560.0" cy="975.0" r="7.9" fill="#F8766D"/><circle cx="560.0" cy="987.6" r="7.9" fill="#F8766D"/><circle cx="560.0" cy="1013.6" r="7.9" fill="#F8766D"/><circle cx="560.0" cy="1031.8" r="7.9" fill="#F8766D"/><circle cx="618.3" cy="916.6" r="7.9" fill="#F8766D"/><circle cx="618.3" cy="936.4" r="7.9" fill="#F8766D"/><circle cx="618.3" cy="942.5" r="7.9" fill="#F8766D"/><circle cx="618.3" cy="950.0" r="7.9" fill="#F8766D"/><circle cx="618.3" cy="965.9" r="7.9" fill="#F8766D"/><circle cx="676.5" cy="865.9" r="7.9" fill="#F8766D"/><circle cx="676.5" cy="843.6" r="7.9" fill="#00BFC4"/><circle cx="676.5" cy="859.5" r="7.9" fill="#00BFC4"/><circle cx="676.5" cy="897.7" r="7.9" fill="#F8766D"/><circle cx="676.5" cy="913.6" r="7.9" fill="#F8766D"/><circle cx="676.5" cy="922.7" r="7.9" fill="#F8766D"/><circle cx="676.5" cy="929.5" r="7.9" fill="#F8766D"/><circle cx="676.5" cy="936.4" r="7.9" fill="#F8766D"/><circle cx="676.5" cy="943.2" r="7.9" fill="#F8766D"/><circle cx="676.5" cy="975.7" r="7.9" fill="#F8766D"/><circle cx="676.5" cy="1010.2" r="7.9" fill="#F8766D"/><circle cx="734.9" cy="761.7" r="7.9" fill="#00BFC4"/><circle cx="734.9" cy="801.0" r="7.9" fill="#00BFC4"/><circle cx="734.9" cy="845.5" r="7.9" fill="#F8766D"/><circle cx="734.9" cy="896.1" r="7.9" fill="#00BFC4"/><circle cx="734.9" cy="891.9" r="7.9" fill="#F8766D"/><circle cx="734.9" cy="915.8" r="7.9" fill="#00BFC4"/><circle cx="734.9" cy="988.9" r="7.9" fill="#F8766D"/><circle cx="734.9" cy="1016.4" r="7.9" fill="#F8766D"/><circle cx="793.2" cy="784.2" r="7.9" fill="#00BFC4"/><circle cx="793.2" cy="795.4" r="7.9" fill="#00BFC4"/><circle cx="793.2" cy="818.2" r="7.9" fill="#00BFC4"/><circle cx="793.2" cy="846.9" r="7.9" fill="#00BFC4"/><circle cx="793.2" cy="860.9" r="7.9" fill="#00BFC4"/><circle cx="793.2" cy="879.2" r="7.9" fill="#00BFC4"/><circle cx="793.2" cy="934.0" r="7.9" fill="#00BFC4"/><circle cx="851.5" cy="623.0" r="7.9" fill="#00BFC4"/><circle cx="851.5" cy="761.1" r="7.9" fill="#00BFC4"/><circle cx="851.5" cy="807.5" r="7.9" fill="#00BFC4"/><circle cx="851.5" cy="834.2" r="7.9" fill="#00BFC4"/><circle cx="851.5" cy="841.2" r="7.9" fill="#00BFC4"/><circle cx="851.5" cy="848.3" r="7.9" fill="#00BFC4"/><circle cx="851.5" cy="853.9" r="7.9" fill="#00BFC4"/><circle cx="851.5" cy="869.4" r="7.9" fill="#00BFC4"/><circle cx="851.5" cy="883.4" r="7.9" fill="#00BFC4"/><circle cx="851.5" cy="921.4" r="7.9" fill="#00BFC4"/><circle cx="851.5" cy="949.5" r="7.9" fill="#00BFC4"/><circle cx="909.8" cy="716.3" r="7.9" fill="#00BFC4"/><circle cx="909.8" cy="726.0" r="7.9" fill="#00BFC4"/><circle cx="909.8" cy="737.9" r="7.9" fill="#00BFC4"/><circle cx="909.8" cy="765.4" r="7.9" fill="#00BFC4"/><circle cx="909.8" cy="811.6" r="7.9" fill="#00BFC4"/><circle cx="909.8" cy="827.5" r="7.9" fill="#00BFC4"/><circle cx="909.8" cy="865.3" r="7.9" fill="#00BFC4"/><circle cx="909.8" cy="873.4" r="7.9" fill="#00BFC4"/><circle cx="909.8" cy="907.2" r="7.9" fill="#00BFC4"/><circle cx="968.1" cy="746.8" r="7.9" fill="#00BFC4"/><circle cx="968.1" cy="761.8" r="7.9" fill="#00BFC4"/><circle cx="968.1" cy="793.6" r="7.9" fill="#00BFC4"/><circle cx="968.1" cy="803.6" r="7.9" fill="#00BFC4"/><circle cx="968.1" cy="831.5" r="7.9" fill="#00BFC4"/>
<rect x="540.8" y="602.6" width="447.6" height="448.6" fill="none" stroke="#333333" stroke-width="2.3"/>
<rect x="1019.0" y="544.3" width="447.3" height="58.3" fill="#D9D9D9" stroke="#333333" stroke-width="2.3"/>
<text transform="translate(1242.1,583.5)" font-size="30.8" fill="#1A1A1A" text-anchor="middle">fruit &amp; veg</text>
<line x1="1095.2" y1="602.6" x2="1095.2" y2="1051.2" stroke="#EBEBEB" stroke-width="1.6"/><line x1="1208.4" y1="602.6" x2="1208.4" y2="1051.2" stroke="#EBEBEB" stroke-width="1.6"/><line x1="1322.0" y1="602.6" x2="1322.0" y2="1051.2" stroke="#EBEBEB" stroke-width="1.6"/><line x1="1435.7" y1="602.6" x2="1435.7" y2="1051.2" stroke="#EBEBEB" stroke-width="1.6"/><line x1="1038.0" y1="602.6" x2="1038.0" y2="1051.2" stroke="#EBEBEB" stroke-width="3.0"/><line x1="1151.7" y1="602.6" x2="1151.7" y2="1051.2" stroke="#EBEBEB" stroke-width="3.0"/><line x1="1265.4" y1="602.6" x2="1265.4" y2="1051.2" stroke="#EBEBEB" stroke-width="3.0"/><line x1="1379.0" y1="602.6" x2="1379.0" y2="1051.2" stroke="#EBEBEB" stroke-width="3.0"/><line x1="1019.0" y1="638.5" x2="1466.3" y2="638.5" stroke="#EBEBEB" stroke-width="1.6"/><line x1="1019.0" y1="735.5" x2="1466.3" y2="735.5" stroke="#EBEBEB" stroke-width="1.6"/><line x1="1019.0" y1="832.8" x2="1466.3" y2="832.8" stroke="#EBEBEB" stroke-width="1.6"/><line x1="1019.0" y1="930.2" x2="1466.3" y2="930.2" stroke="#EBEBEB" stroke-width="1.6"/><line x1="1019.0" y1="1027.2" x2="1466.3" y2="1027.2" stroke="#EBEBEB" stroke-width="1.6"/><line x1="1019.0" y1="686.8" x2="1466.3" y2="686.8" stroke="#EBEBEB" stroke-width="3.0"/><line x1="1019.0" y1="784.1" x2="1466.3" y2="784.1" stroke="#EBEBEB" stroke-width="3.0"/><line x1="1019.0" y1="881.5" x2="1466.3" y2="881.5" stroke="#EBEBEB" stroke-width="3.0"/><line x1="1019.0" y1="978.5" x2="1466.3" y2="978.5" stroke="#EBEBEB" stroke-width="3.0"/>
<circle cx="1038.0" cy="910.2" r="7.9" fill="#F8766D"/><circle cx="1083.6" cy="868.0" r="7.9" fill="#F8766D"/><circle cx="1083.6" cy="968.2" r="7.9" fill="#F8766D"/><circle cx="1083.6" cy="980.8" r="7.9" fill="#F8766D"/><circle cx="1083.6" cy="1023.5" r="7.9" fill="#F8766D"/><circle cx="1106.5" cy="907.6" r="7.9" fill="#F8766D"/><circle cx="1106.5" cy="912.8" r="7.9" fill="#F8766D"/><circle cx="1106.5" cy="940.0" r="7.9" fill="#F8766D"/><circle cx="1106.5" cy="994.5" r="7.9" fill="#F8766D"/><circle cx="1106.5" cy="1007.7" r="7.9" fill="#F8766D"/><circle cx="1106.5" cy="1023.5" r="7.9" fill="#F8766D"/><circle cx="1129.1" cy="995.8" r="7.9" fill="#F8766D"/><circle cx="1151.7" cy="781.1" r="7.9" fill="#00BFC4"/><circle cx="1151.7" cy="857.2" r="7.9" fill="#F8766D"/><circle cx="1151.7" cy="865.4" r="7.9" fill="#00BFC4"/><circle cx="1151.7" cy="877.1" r="7.9" fill="#00BFC4"/><circle cx="1151.7" cy="893.4" r="7.9" fill="#F8766D"/><circle cx="1151.7" cy="908.8" r="7.9" fill="#F8766D"/><circle cx="1151.7" cy="904.3" r="7.9" fill="#00BFC4"/><circle cx="1151.7" cy="917.0" r="7.9" fill="#00BFC4"/><circle cx="1151.7" cy="947.8" r="7.9" fill="#00BFC4"/><circle cx="1151.7" cy="988.6" r="7.9" fill="#00BFC4"/><circle cx="1151.7" cy="940.5" r="7.9" fill="#F8766D"/><circle cx="1151.7" cy="955.9" r="7.9" fill="#F8766D"/><circle cx="1151.7" cy="965.0" r="7.9" fill="#F8766D"/><circle cx="1151.7" cy="974.1" r="7.9" fill="#F8766D"/><circle cx="1151.7" cy="984.9" r="7.9" fill="#F8766D"/><circle cx="1151.7" cy="1008.5" r="7.9" fill="#F8766D"/><circle cx="1151.7" cy="1016.6" r="7.9" fill="#F8766D"/><circle cx="1174.3" cy="936.9" r="7.9" fill="#F8766D"/><circle cx="1197.0" cy="801.6" r="7.9" fill="#F8766D"/><circle cx="1197.0" cy="821.4" r="7.9" fill="#00BFC4"/><circle cx="1197.0" cy="898.0" r="7.9" fill="#00BFC4"/><circle cx="1197.0" cy="913.4" r="7.9" fill="#00BFC4"/><circle cx="1197.0" cy="928.4" r="7.9" fill="#00BFC4"/><circle cx="1197.0" cy="945.1" r="7.9" fill="#F8766D"/><circle cx="1197.0" cy="952.3" r="7.9" fill="#F8766D"/><circle cx="1197.0" cy="959.6" r="7.9" fill="#F8766D"/><circle cx="1197.0" cy="990.4" r="7.9" fill="#F8766D"/><circle cx="1197.0" cy="1005.8" r="7.9" fill="#F8766D"/><circle cx="1197.0" cy="1012.1" r="7.9" fill="#F8766D"/><circle cx="1197.0" cy="1032.0" r="7.9" fill="#00BFC4"/><circle cx="1220.0" cy="837.1" r="7.9" fill="#00BFC4"/><circle cx="1220.0" cy="842.5" r="7.9" fill="#00BFC4"/><circle cx="1220.0" cy="883.3" r="7.9" fill="#00BFC4"/><circle cx="1220.0" cy="905.0" r="7.9" fill="#F8766D"/><circle cx="1220.0" cy="916.8" r="7.9" fill="#F8766D"/><circle cx="1220.0" cy="972.0" r="7.9" fill="#F8766D"/><circle cx="1242.6" cy="872.0" r="7.9" fill="#00BFC4"/><circle cx="1242.6" cy="929.1" r="7.9" fill="#F8766D"/><circle cx="1242.6" cy="978.3" r="7.9" fill="#F8766D"/><circle cx="1265.2" cy="689.1" r="7.9" fill="#00BFC4"/><circle cx="1265.2" cy="725.1" r="7.9" fill="#00BFC4"/><circle cx="1265.2" cy="756.8" r="7.9" fill="#00BFC4"/><circle cx="1265.2" cy="810.0" r="7.9" fill="#F8766D"/><circle cx="1265.2" cy="835.3" r="7.9" fill="#00BFC4"/><circle cx="1265.2" cy="846.2" r="7.9" fill="#00BFC4"/><circle cx="1265.2" cy="887.3" r="7.9" fill="#F8766D"/><circle cx="1265.2" cy="900.5" r="7.9" fill="#00BFC4"/><circle cx="1265.2" cy="910.4" r="7.9" fill="#00BFC4"/><circle cx="1265.2" cy="955.3" r="7.9" fill="#F8766D"/><circle cx="1265.2" cy="973.4" r="7.9" fill="#00BFC4"/><circle cx="1265.2" cy="986.5" r="7.9" fill="#F8766D"/><circle cx="1310.8" cy="669.7" r="7.9" fill="#00BFC4"/><circle cx="1310.8" cy="744.2" r="7.9" fill="#00BFC4"/><circle cx="1310.8" cy="757.5" r="7.9" fill="#00BFC4"/><circle cx="1310.8" cy="827.5" r="7.9" fill="#00BFC4"/><circle cx="1310.8" cy="849.2" r="7.9" fill="#00BFC4"/><circle cx="1310.8" cy="894.5" r="7.9" fill="#00BFC4"/><circle cx="1310.8" cy="936.1" r="7.9" fill="#00BFC4"/><circle cx="1310.8" cy="950.3" r="7.9" fill="#F8766D"/><circle cx="1356.3" cy="622.9" r="7.9" fill="#00BFC4"/><circle cx="1356.3" cy="756.1" r="7.9" fill="#00BFC4"/><circle cx="1356.3" cy="827.2" r="7.9" fill="#00BFC4"/><circle cx="1356.3" cy="835.3" r="7.9" fill="#00BFC4"/><circle cx="1356.3" cy="862.5" r="7.9" fill="#00BFC4"/><circle cx="1356.3" cy="870.6" r="7.9" fill="#00BFC4"/><circle cx="1356.3" cy="877.8" r="7.9" fill="#00BFC4"/><circle cx="1356.3" cy="915.3" r="7.9" fill="#F8766D"/><circle cx="1401.6" cy="702.1" r="7.9" fill="#00BFC4"/><circle cx="1401.6" cy="801.8" r="7.9" fill="#00BFC4"/><circle cx="1446.6" cy="703.5" r="7.9" fill="#00BFC4"/><circle cx="1446.6" cy="742.4" r="7.9" fill="#00BFC4"/><circle cx="1446.6" cy="756.8" r="7.9" fill="#00BFC4"/>
<rect x="1019.0" y="602.6" width="447.3" height="448.6" fill="none" stroke="#333333" stroke-width="2.3"/>
<text transform="translate(763.8,1099.7) scale(1,1.015)" font-size="38.7" fill="#000" text-anchor="middle">Trait Value</text>
<text transform="translate(33.7,558.7) rotate(-90) scale(1,1.015)" font-size="38.6" fill="#000" text-anchor="middle">Predicted Trait Value</text>
<text transform="translate(1500,502.7)" font-size="39" fill="#000">group</text>
<circle cx="1531.5" cy="555.6" r="7.9" fill="#F8766D"/>
<circle cx="1531.5" cy="616.4" r="7.9" fill="#00BFC4"/>
<text transform="translate(1579.6,567.2) scale(1,1.06)" font-size="31.2" fill="#000">CON</text>
<text transform="translate(1579.6,627.8) scale(1,1.06)" font-size="31.2" fill="#000">LIFE</text>
</svg></body></html>
